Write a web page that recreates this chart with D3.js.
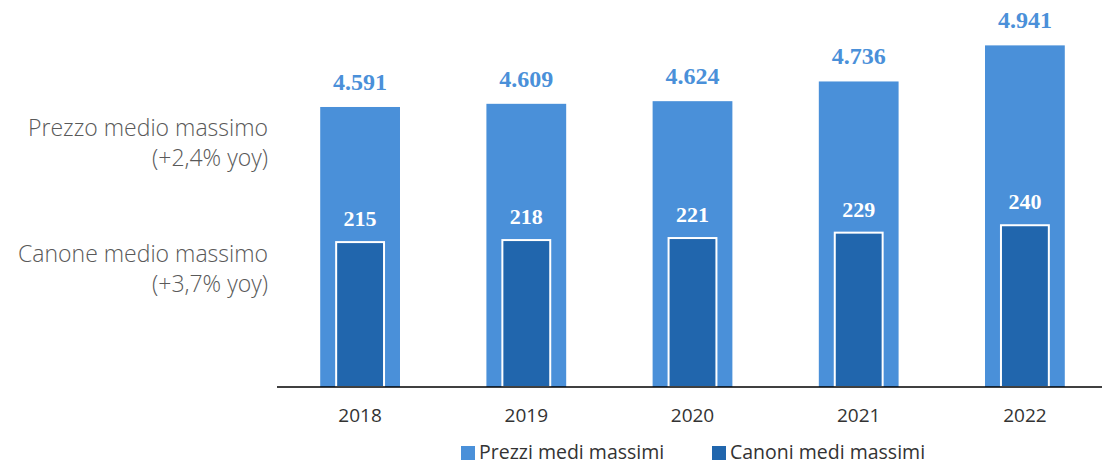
<!DOCTYPE html>
<html>
<head>
<meta charset="utf-8">
<script src="https://cdn.jsdelivr.net/npm/d3@7"></script>
<style>
  html, body { margin: 0; padding: 0; background: #fff; }
  svg { display: block; }
</style>
</head>
<body>
<div id="chart"></div>
<script>
// data
const years = ["2018", "2019", "2020", "2021", "2022"];
const prezzi = [4591, 4609, 4624, 4736, 4941];
const canoni = [215, 218, 221, 229, 240];
const prezziLabels = ["4.591", "4.609", "4.624", "4.736", "4.941"];
const sideLabels = [
    ["Prezzo medio massimo", "(+2,4% yoy)"],
    ["Canone medio massimo", "(+3,7% yoy)"]
];
const legendNames = ["Prezzi medi massimi", "Canoni medi massimi"];

const width = 1102, height = 465;
const baseY = 387;
const light = "#4A90D9", dark = "#2166AD";

const svg = d3.select("#chart").append("svg")
    .attr("width", width)
    .attr("height", height);

const x = d3.scaleBand().domain(years).range([277, 1108]).paddingInner(0.52).paddingOuter(0.26);

// two hidden value axes
const yP = d3.scaleLinear().domain([3000, 5000]).range([baseY, 35]);
const yC = d3.scaleLinear().domain([0, 500]).range([baseY, baseY - 337]);

// prezzi bars
svg.append("g")
    .selectAll("rect")
    .data(prezzi)
    .join("rect")
    .attr("x", (d, i) => x(years[i]))
    .attr("y", d => yP(d))
    .attr("width", x.bandwidth())
    .attr("height", d => baseY - yP(d))
    .attr("fill", light);

// canoni bars, narrower, white outline
const cw = x.bandwidth() * 0.6;
svg.append("g")
    .selectAll("rect")
    .data(canoni)
    .join("rect")
    .attr("x", (d, i) => x(years[i]) + (x.bandwidth() - cw) / 2)
    .attr("y", d => yC(d))
    .attr("width", cw)
    .attr("height", d => baseY - yC(d))
    .attr("fill", dark)
    .attr("stroke", "#fff")
    .attr("stroke-width", 2);

// value labels
svg.append("g")
    .selectAll("text")
    .data(prezzi)
    .join("text")
    .attr("x", (d, i) => x(years[i]) + x.bandwidth() / 2)
    .attr("y", d => yP(d) - 17)
    .attr("text-anchor", "middle")
    .attr("font-family", "Liberation Serif, serif")
    .attr("font-weight", "bold")
    .attr("font-size", "24px")
    .attr("fill", light)
    .text((d, i) => prezziLabels[i]);

svg.append("g")
    .selectAll("text")
    .data(canoni)
    .join("text")
    .attr("x", (d, i) => x(years[i]) + x.bandwidth() / 2)
    .attr("y", d => yC(d) - 16)
    .attr("text-anchor", "middle")
    .attr("font-family", "Liberation Serif, serif")
    .attr("font-weight", "bold")
    .attr("font-size", "22px")
    .attr("fill", "#fff")
    .text(d => d);

// baseline
svg.append("line")
    .attr("x1", 277).attr("x2", width)
    .attr("y1", baseY).attr("y2", baseY)
    .attr("stroke", "#000")
    .attr("stroke-width", 1.5);

// category axis
const xAxis = svg.append("g")
    .attr("transform", `translate(0,${baseY})`)
    .call(d3.axisBottom(x).tickSize(0).tickPadding(0));
xAxis.select(".domain").remove();
xAxis.selectAll("text")
    .attr("dy", null)
    .attr("y", 35)
    .style("font-family", "Open Sans, sans-serif")
    .style("font-size", "19px")
    .attr("fill", "#333");

// side annotations
const side = svg.append("g")
    .attr("font-family", "Open Sans, sans-serif")
    .attr("font-weight", 300)
    .attr("font-size", "23px")
    .attr("fill", "#595959")
    .attr("text-anchor", "end");
sideLabels.forEach((lines, k) => {
    lines.forEach((t, j) => {
        side.append("text")
            .attr("x", 268)
            .attr("y", 136 + k * 126 + j * 30)
            .text(t);
    });
});

// legend
const legend = svg.append("g")
    .attr("font-family", "Open Sans, sans-serif")
    .attr("font-size", "19.5px")
    .attr("fill", "#333");
const legendX = [461, 712];
legendNames.forEach((name, i) => {
    legend.append("rect")
        .attr("x", legendX[i]).attr("y", 446)
        .attr("width", 14).attr("height", 14)
        .attr("fill", i === 0 ? light : dark);
    legend.append("text")
        .attr("x", legendX[i] + 18)
        .attr("y", 459)
        .text(name);
});
</script>
</body>
</html>
